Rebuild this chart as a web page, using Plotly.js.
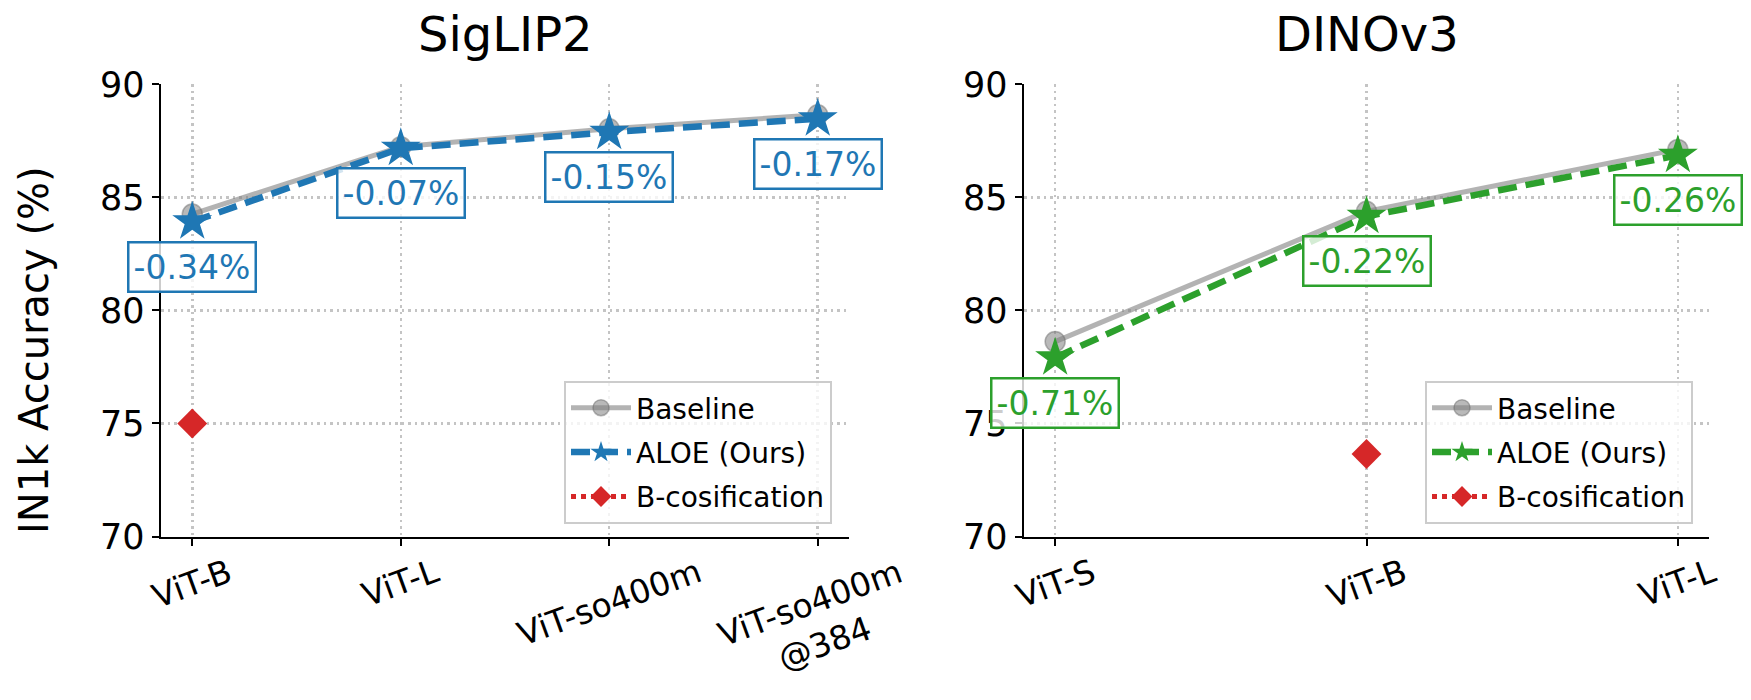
<!DOCTYPE html>
<html>
<head>
<meta charset="utf-8">
<script src="https://cdn.plot.ly/plotly-3.0.1.min.js"></script>
<style>
  html, body { margin: 0; padding: 0; background: white; }
  #chart { width: 1751px; height: 700px; }
</style>
</head>
<body>
<div id="chart"></div>
<script>
// ---------- data ----------
const siglipModels = ['ViT-B', 'ViT-L', 'ViT-so400m', 'ViT-so400m@384'];
const siglipTicks = ['ViT-B', 'ViT-L', 'ViT-so400m', 'ViT-so400m<br>@384'];
const siglipBase = [84.26, 87.24, 88.03, 88.65];
const siglipAloe = [83.92, 87.17, 87.88, 88.48];
const siglipDelta = ['-0.34%', '-0.07%', '-0.15%', '-0.17%'];
const siglipBcosModels = ['ViT-B'];
const siglipBcos = [75.0];

const dinoModels = ['ViT-S', 'ViT-B', 'ViT-L'];
const dinoTicks = ['ViT-S', 'ViT-B', 'ViT-L'];
const dinoBase = [78.62, 84.38, 87.12];
const dinoAloe = [77.91, 84.16, 86.86];
const dinoDelta = ['-0.71%', '-0.22%', '-0.26%'];
const dinoBcosModels = ['ViT-B'];
const dinoBcos = [73.65];

const yTicks = [70, 75, 80, 85, 90];

// ---------- styles ----------
const FONT = 'DejaVu Sans, sans-serif';
const BLUE = '#1f77b4';
const GREEN = '#2ca02c';
const RED = '#d62728';

function panelTraces(models, base, aloe, bcosX, bcos, color, xa, ya, leg) {
  return [
    {x: models, y: base, name: 'Baseline', xaxis: xa, yaxis: ya, legend: leg,
     legendgroup: 'base', mode: 'lines+markers', type: 'scatter',
     line: {color: 'rgba(128,128,128,0.6)', width: 5},
     marker: {symbol: 'circle', size: 20, color: 'rgba(128,128,128,0.55)',
              line: {color: 'rgba(110,110,110,0.5)', width: 1.5}}},
    {x: models, y: aloe, name: 'ALOE (Ours)', xaxis: xa, yaxis: ya, legend: leg,
     legendgroup: 'aloe', mode: 'lines+markers', type: 'scatter',
     line: {color: color, width: 6.5, dash: '19px,9px'},
     marker: {symbol: 'star', size: 30, color: color}},
    {x: bcosX, y: bcos, name: 'B-cosification', xaxis: xa, yaxis: ya, legend: leg,
     legendgroup: 'bcos', mode: 'lines+markers', type: 'scatter',
     line: {color: RED, width: 5, dash: 'dot'},
     marker: {symbol: 'diamond', size: 23, color: RED}}
  ];
}

function xAxis(domain, n, anchor, cats) {
  return {domain: domain, anchor: anchor, type: 'category',
    categoryorder: 'array', categoryarray: cats,
    range: [-0.05 * (n - 1), (n - 1) * 1.05],
    showline: true, linecolor: 'black', linewidth: 2.5,
    ticks: 'outside', ticklen: 7, tickwidth: 2, tickcolor: 'black',
    showticklabels: false,
    showgrid: true, gridcolor: '#c4c4c4', gridwidth: 2.5, griddash: '2.5px,4px',
    zeroline: false, fixedrange: true};
}

function yAxis(domain, anchor) {
  return {domain: domain, anchor: anchor, range: [70, 90],
    tickvals: yTicks, ticktext: yTicks.map(String),
    tickfont: {family: FONT, size: 35, color: 'black'},
    showline: true, linecolor: 'black', linewidth: 2.5,
    ticks: 'outside', ticklen: 7, tickwidth: 2, tickcolor: 'black',
    showgrid: true, gridcolor: '#c4c4c4', gridwidth: 2.5, griddash: '2.5px,4px',
    zeroline: false, fixedrange: true};
}

function deltaNotes(models, aloe, delta, color, xa, ya) {
  return models.map((m, i) => ({
    x: m, y: aloe[i], xref: xa, yref: ya, text: delta[i], showarrow: false,
    yshift: -45, xanchor: 'center', yanchor: 'middle',
    font: {family: FONT, size: 33, color: color},
    bgcolor: 'rgba(255,255,255,0.8)', bordercolor: color, borderwidth: 2.5, borderpad: 4
  }));
}

function tickNotes(models, ticks, xa, ya) {
  return models.map((m, i) => ({
    x: m, y: 70, xref: xa, yref: ya, text: ticks[i], showarrow: false,
    textangle: -20, xanchor: 'center', yanchor: 'top', yshift: -12,
    font: {family: FONT, size: 33, color: 'black'}
  }));
}

const dom1 = [161 / 1751, 849 / 1751];
const dom2 = [1024 / 1751, 1709 / 1751];
const ydom = [1 - 536.5 / 700, 1 - 84.3 / 700];

const data = [].concat(
  panelTraces(siglipModels, siglipBase, siglipAloe, siglipBcosModels, siglipBcos, BLUE, 'x', 'y', 'legend'),
  panelTraces(dinoModels, dinoBase, dinoAloe, dinoBcosModels, dinoBcos, GREEN, 'x2', 'y2', 'legend2')
);

const legendStyle = (xr) => ({
  x: xr, y: 1 - 524 / 700, xanchor: 'right', yanchor: 'bottom',
  bgcolor: 'rgba(255,255,255,0.8)', bordercolor: '#cccccc', borderwidth: 2,
  font: {family: FONT, size: 28, color: 'black'}, itemwidth: 60, tracegroupgap: 5
});

const titleFont = {family: FONT, size: 48, color: 'black'};

const layout = {
  width: 1751, height: 700,
  margin: {l: 0, r: 0, t: 0, b: 0},
  paper_bgcolor: 'white', plot_bgcolor: 'white',
  font: {family: FONT},
  showlegend: true,
  xaxis: xAxis(dom1, siglipModels.length, 'y', siglipModels),
  yaxis: yAxis(ydom, 'x'),
  xaxis2: xAxis(dom2, dinoModels.length, 'y2', dinoModels),
  yaxis2: yAxis(ydom, 'x2'),
  legend: legendStyle(832 / 1751),
  legend2: legendStyle(1693 / 1751),
  annotations: [].concat(
    deltaNotes(siglipModels, siglipAloe, siglipDelta, BLUE, 'x', 'y'),
    deltaNotes(dinoModels, dinoAloe, dinoDelta, GREEN, 'x2', 'y2'),
    tickNotes(siglipModels, siglipTicks, 'x', 'y'),
    tickNotes(dinoModels, dinoTicks, 'x2', 'y2'),
    [
      {text: 'SigLIP2', x: (dom1[0] + dom1[1]) / 2, y: 1 - 34 / 700, xref: 'paper', yref: 'paper',
       showarrow: false, xanchor: 'center', yanchor: 'middle', font: titleFont},
      {text: 'DINOv3', x: (dom2[0] + dom2[1]) / 2, y: 1 - 34 / 700, xref: 'paper', yref: 'paper',
       showarrow: false, xanchor: 'center', yanchor: 'middle', font: titleFont},
      {text: 'IN1k Accuracy (%)', x: 34 / 1751, y: 0.5, xref: 'paper', yref: 'paper',
       showarrow: false, textangle: -90, xanchor: 'center', yanchor: 'middle',
       font: {family: FONT, size: 40, color: 'black'}}
    ]
  )
};

Plotly.newPlot('chart', data, layout, {staticPlot: true});
</script>
</body>
</html>
